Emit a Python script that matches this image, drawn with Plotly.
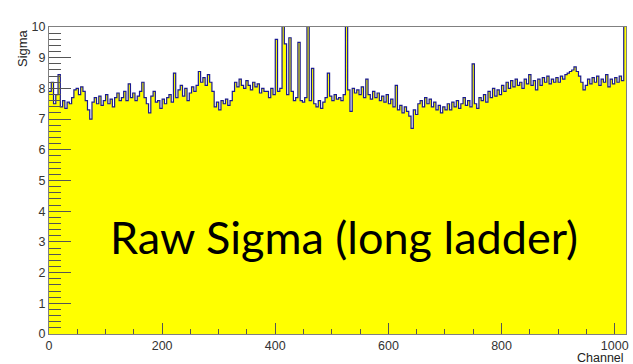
import numpy as np
import plotly.graph_objects as go

# Raw sigma per group of 4 channels (channels 0..1019)
bin_width = 4
sigma = [
    # ch 0-63
    7.9, 8.2, 7.5, 7.8, 8.45, 7.4, 7.6, 7.35, 7.55, 7.5, 7.7, 7.95, 8.0, 7.8, 8.05, 7.9,
    # ch 64-127
    7.6, 7.3, 7.0, 7.55, 7.7, 7.5, 7.75, 7.45, 7.6, 7.8, 7.5, 7.65, 7.4, 7.7, 7.85, 7.6,
    # ch 128-191
    7.7, 7.9, 7.6, 8.15, 7.7, 7.85, 7.6, 7.75, 7.9, 8.2, 7.7, 7.5, 7.2, 7.75, 7.9, 7.55,
    # ch 192-255
    7.6, 7.35, 7.65, 7.5, 7.7, 7.8, 7.55, 8.5, 7.7, 7.95, 8.1, 7.75, 8.0, 7.6, 7.85, 8.05,
    # ch 256-319
    7.9, 8.1, 8.55, 8.2, 8.35, 8.1, 8.45, 8.2, 7.9, 7.4, 7.55, 7.3, 7.6, 7.5, 7.65, 7.45,
    # ch 320-383
    7.6, 7.9, 8.2, 8.05, 8.3, 8.1, 8.0, 8.25, 8.1, 7.95, 8.2, 8.05, 8.15, 7.85, 8.0, 7.9,
    # ch 384-447
    7.9, 7.7, 8.0, 7.8, 9.6, 7.9, 8.0, 10.5, 9.45, 7.8, 9.65, 7.9, 7.6, 7.7, 9.5, 7.6,
    # ch 448-511
    7.55, 7.7, 10.5, 7.6, 8.65, 7.5, 7.4, 7.6, 7.35, 7.55, 7.7, 8.5, 7.75, 7.6, 7.8, 7.65,
    # ch 512-575
    7.7, 7.6, 7.8, 10.5, 7.95, 7.25, 8.0, 7.85, 7.95, 7.8, 8.05, 7.7, 8.3, 7.8, 7.65, 7.9,
    # ch 576-639
    7.7, 7.85, 7.6, 7.75, 7.55, 7.8, 7.5, 7.65, 7.4, 8.1, 7.3, 7.45, 7.2, 7.4, 7.25, 7.1,
    # ch 640-703
    6.7, 7.3, 7.15, 7.5, 7.6, 7.4, 7.7, 7.5, 7.65, 7.4, 7.55, 7.3, 7.45, 7.2, 7.4, 7.3,
    # ch 704-767
    7.5, 7.3, 7.55, 7.4, 7.6, 7.35, 7.5, 7.7, 7.45, 7.6, 7.4, 8.8, 7.5, 7.35, 7.7, 7.6,
    # ch 768-831
    7.8, 7.55, 7.9, 7.7, 8.0, 7.75, 7.95, 7.8, 8.1, 7.9, 8.2, 8.0, 8.25, 8.05, 8.3, 8.1,
    # ch 832-895
    8.2, 8.0, 8.3, 8.15, 8.45, 8.1, 8.25, 7.95, 8.3, 8.1, 8.35, 8.2, 8.4, 8.15, 8.3, 8.2,
    # ch 896-959
    8.35, 8.2, 8.4, 8.3, 8.45, 8.5, 8.55, 8.6, 8.7, 8.55, 8.4, 8.2, 7.95, 8.1, 8.3, 8.15,
    # ch 960-1019
    8.35, 8.2, 8.4, 8.1, 8.3, 8.2, 8.45, 8.05, 8.3, 8.15, 8.35, 8.2, 8.4, 8.25, 10.5,
]

x_major_ticks = [0, 200, 400, 600, 800, 1000]
y_major_ticks = list(range(0, 11))

edges = np.arange(len(sigma) + 1) * bin_width
y_steps = list(sigma) + [sigma[-1]]

fig = go.Figure()
fig.add_trace(go.Scatter(
    x=edges, y=y_steps, mode="lines", line_shape="hv",
    line=dict(color="#1a1a90", width=1.2),
    fill="tozeroy", fillcolor="#ffff00",
    hoverinfo="skip", showlegend=False,
))

axis_font = dict(family="Liberation Sans, Arial, sans-serif", size=12.5, color="#333333")

fig.update_layout(
    width=633, height=364,
    margin=dict(l=49, r=4, t=27, b=30),
    paper_bgcolor="white", plot_bgcolor="white",
    showlegend=False,
    xaxis=dict(
        range=[0, edges[-1]], tickvals=x_major_ticks, ticks="inside", ticklen=11,
        tickcolor="#555555", tickwidth=1, showgrid=False, zeroline=False,
        showline=True, linecolor="#808080", linewidth=1, mirror=True,
        tickfont=axis_font,
        minor=dict(dtick=50, ticks="inside", ticklen=5, tickcolor="#555555", showgrid=False),
    ),
    yaxis=dict(
        range=[0, 10], tickvals=y_major_ticks, ticks="inside", ticklen=22,
        tickcolor="#555555", tickwidth=1, showgrid=False, zeroline=False,
        showline=True, linecolor="#808080", linewidth=1, mirror=True,
        tickfont=axis_font,
        minor=dict(dtick=0.2, ticks="inside", ticklen=12, tickcolor="#555555", showgrid=False),
    ),
    annotations=[
        dict(text="Sigma", xref="paper", yref="paper", x=0, y=1, xshift=-27,
             xanchor="center", yanchor="top", textangle=-90, showarrow=False,
             font=dict(family="Liberation Sans, Arial, sans-serif", size=13, color="#222222")),
        dict(text="Channel", xref="paper", yref="paper", x=1, y=0, yshift=-15,
             xanchor="right", yanchor="top", showarrow=False,
             font=dict(family="Liberation Sans, Arial, sans-serif", size=12.5, color="#222222")),
        dict(text="Raw Sigma (long ladder)", xref="x", yref="y", x=522, y=3.16,
             xanchor="center", yanchor="middle", showarrow=False,
             font=dict(family="Lato, Open Sans, sans-serif", size=45, color="#000000")),
    ],
)

fig.write_html(
    "out.html",
    config={"displayModeBar": False},
    post_script="document.body.style.margin='0';document.body.style.overflow='hidden';",
)
